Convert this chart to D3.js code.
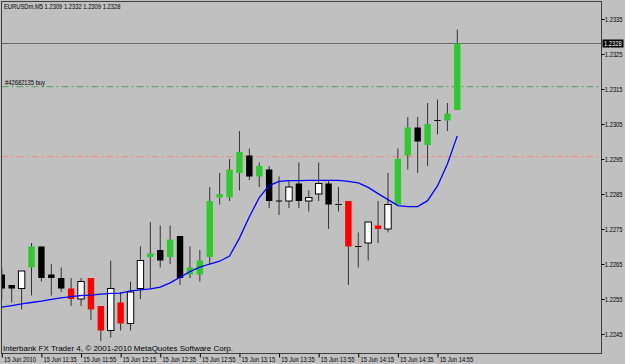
<!DOCTYPE html>
<html lang="en">
<head>
<meta charset="UTF-8">
<title>EURUSDm,M5</title>
<script src="https://cdn.jsdelivr.net/npm/d3@7"></script>
<style>
  body { margin: 0; background: #c0c0c0; }
  svg { display: block; font-family: "Liberation Sans", Arial, sans-serif; }
  .axis text { font-size: 7px; fill: #000; }
  .axis line { stroke: #000; }
  .axis path { display: none; }
</style>
</head>
<body>
<script>
// bar times (M5), 15 Jun 2010
const times = ["11:15","11:20","11:25","11:30","11:35","11:40","11:45","11:50","11:55","12:00",
  "12:05","12:10","12:15","12:20","12:25","12:30","12:35","12:40","12:45","12:50",
  "12:55","13:00","13:05","13:10","13:15","13:20","13:25","13:30","13:35","13:40",
  "13:45","13:50","13:55","14:00","14:05","14:10","14:15","14:20","14:25","14:30",
  "14:35","14:40","14:45","14:50","14:55","15:00","15:05"];

const opens = [1.2262,1.2259,1.2258,1.2264,1.2270,1.2262,1.2261,1.2258,1.2255,1.2261,
  1.2253,1.2246,1.2254,1.2248,1.2258,1.2267,1.2269,1.2267,1.2273,1.2262,
  1.2262,1.2267,1.2284,1.2284,1.2291,1.2296,1.2290,1.2292,1.2283,1.2283,
  1.2288,1.2283,1.2285,1.2288,1.2282,1.2283,1.2270,1.2271,1.2276,1.2275,
  1.2282,1.2296,1.2304,1.2299,1.2306,1.2306,1.2309];
const highs = [1.2264,1.2259,1.2263,1.2271,1.2270,1.2265,1.2264,1.2261,1.2261,1.2261,
  1.2253,1.2266,1.2257,1.2260,1.2270,1.2277,1.2276,1.2276,1.2273,1.2270,
  1.2269,1.2287,1.2291,1.2295,1.2303,1.2298,1.2294,1.2293,1.2290,1.2289,
  1.2294,1.2286,1.2294,1.2289,1.2287,1.2283,1.2274,1.2277,1.2283,1.2291,
  1.2298,1.2307,1.2307,1.2311,1.2312,1.2311,1.2332];
const lows = [1.2255,1.2254,1.2252,1.2256,1.2260,1.2256,1.2257,1.2253,1.2253,1.2249,
  1.2243,1.2244,1.2246,1.2246,1.2255,1.2258,1.2264,1.2265,1.2259,1.2261,
  1.2260,1.2265,1.2282,1.2283,1.2286,1.2289,1.2287,1.2281,1.2279,1.2281,
  1.2281,1.2280,1.2283,1.2275,1.2280,1.2259,1.2264,1.2266,1.2271,1.2274,
  1.2282,1.2292,1.2291,1.2293,1.2302,1.2303,1.2309];
const closes = [1.2258,1.2258,1.2263,1.2270,1.2261,1.2261,1.2258,1.2255,1.2260,1.2252,
  1.2246,1.2258,1.2248,1.2257,1.2266,1.2268,1.2266,1.2272,1.2261,1.2264,
  1.2266,1.2283,1.2285,1.2292,1.2297,1.2290,1.2293,1.2283,1.2283,1.2287,
  1.2283,1.2284,1.2288,1.2282,1.2282,1.2270,1.2270,1.2277,1.2275,1.2282,
  1.2295,1.2304,1.2300,1.2305,1.2306,1.2308,1.2328];

// blue moving average
const ma = [1.22527,1.22531,1.22536,1.22540,1.22544,1.22549,1.22553,1.22557,1.22560,1.22561,
  1.22564,1.22566,1.22567,1.22573,1.22576,1.22579,1.22584,1.22596,1.22612,1.22628,
  1.22641,1.22650,1.22658,1.22673,1.22724,1.22785,1.22840,1.22874,1.22886,1.22888,
  1.22888,1.22889,1.22889,1.22889,1.22889,1.22886,1.22882,1.22869,1.22851,1.22834,
  1.22817,1.22814,1.22814,1.22831,1.22873,1.22936,1.23016];

// bars coloured by the signal indicator (green up / red down)
const marked = [0,0,0,1,0,0,0,1,0,1, 1,0,1,0,0,1,0,1,0,1, 1,1,1,1,1,0,1,0,0,0,
  0,0,0,0,0,1,0,0,1,0, 1,1,0,1,0,1,1];

const timeTicks = ["11:15","11:35","11:55","12:15","12:35","12:55","13:15","13:35","13:55","14:15","14:35","14:55"];
const timeLabels = ["15 Jun 2010","15 Jun 11:35","15 Jun 11:55","15 Jun 12:15","15 Jun 12:35","15 Jun 12:55",
  "15 Jun 13:15","15 Jun 13:35","15 Jun 13:55","15 Jun 14:15","15 Jun 14:35","15 Jun 14:55"];
const priceTicks = [1.2335,1.2325,1.2315,1.2305,1.2295,1.2285,1.2275,1.2265,1.2255,1.2245];

const lastPrice = 1.2328;
const orderPrice = 1.23157;
const stopPrice = 1.22957;
const orderLabel = "#42682135 buy";
const title = "EURUSDm,M5  1.2309 1.2332 1.2309 1.2328";
const footer = "Interbank FX Trader 4, \u00a9 2001-2010 MetaQuotes Software Corp.";

const W = 625, H = 364;
const pLeft = 1.5, pRight = 601.5, pTop = 1.5, pBottom = 353.5;
const narrow = 0.83; // terminal font is narrower than Arial

const svg = d3.select("body").append("svg")
    .attr("width", W)
    .attr("height", H);

svg.append("rect").attr("width", W).attr("height", H).attr("fill", "#c0c0c0");

const x = d3.scalePoint().domain(times).range([1.8, 457.3]);
const y = d3.scaleLinear().domain([1.2245, 1.2335]).range([334, 19]);

svg.append("clipPath").attr("id", "plot")
  .append("rect")
    .attr("x", pLeft).attr("y", pTop)
    .attr("width", pRight - pLeft).attr("height", pBottom - pTop);

function smallText(px, py, str, size) {
  return svg.append("text")
      .attr("transform", "translate(" + px + "," + py + ") scale(" + narrow + ",1)")
      .style("font-size", (size || 7) + "px")
      .text(str);
}

// level lines
svg.append("line")
    .attr("x1", pLeft).attr("x2", pRight)
    .attr("y1", y(orderPrice)).attr("y2", y(orderPrice))
    .attr("stroke", "#6aa66a").attr("stroke-width", 1.2)
    .attr("stroke-dasharray", "7,3,2,3");
svg.append("line")
    .attr("x1", pLeft).attr("x2", pRight)
    .attr("y1", y(stopPrice)).attr("y2", y(stopPrice))
    .attr("stroke", "#e8977c").attr("stroke-width", 1.2)
    .attr("stroke-dasharray", "7,3,2,3");
svg.append("line")
    .attr("x1", pLeft).attr("x2", pRight)
    .attr("y1", y(lastPrice)).attr("y2", y(lastPrice))
    .attr("stroke", "#6a6a6a").attr("stroke-width", 1);

smallText(5, y(orderPrice) - 2, orderLabel);

// candles
const bars = times.map((t, i) => ({ t, o: opens[i], h: highs[i], l: lows[i], c: closes[i], m: marked[i] }));
const bw = 6.4;

const g = svg.append("g").attr("clip-path", "url(#plot)");

g.selectAll("line.wick")
  .data(bars)
  .join("line")
    .attr("class", "wick")
    .attr("x1", d => x(d.t)).attr("x2", d => x(d.t))
    .attr("y1", d => y(d.h)).attr("y2", d => y(d.l))
    .attr("stroke", "#333").attr("stroke-width", 1);

function bodyFill(d) {
  if (d.m) return d.c >= d.o ? "#30c830" : "#ff0000";
  return d.c > d.o ? "#ffffff" : "#000000";
}

g.selectAll("rect.body")
  .data(bars.filter(d => d.o !== d.c))
  .join("rect")
    .attr("class", "body")
    .attr("x", d => x(d.t) - bw / 2)
    .attr("y", d => y(Math.max(d.o, d.c)))
    .attr("width", bw)
    .attr("height", d => Math.abs(y(d.o) - y(d.c)))
    .attr("fill", bodyFill)
    .attr("stroke", d => (!d.m && d.c > d.o) ? "#000" : "none")
    .attr("stroke-width", 1);

g.selectAll("line.doji")
  .data(bars.filter(d => d.o === d.c))
  .join("line")
    .attr("class", "doji")
    .attr("x1", d => x(d.t) - bw / 2).attr("x2", d => x(d.t) + bw / 2)
    .attr("y1", d => y(d.o)).attr("y2", d => y(d.o))
    .attr("stroke", "#000").attr("stroke-width", 1);

// moving average
g.append("path")
    .datum(bars)
    .attr("fill", "none")
    .attr("stroke", "#0000ff")
    .attr("stroke-width", 1.3)
    .attr("d", d3.line().x(d => x(d.t)).y((d, i) => y(ma[i])));

// frame
svg.append("rect")
    .attr("x", pLeft).attr("y", pTop)
    .attr("width", pRight - pLeft).attr("height", pBottom - pTop)
    .attr("fill", "none").attr("stroke", "#404040");

// price axis
const yAxis = svg.append("g")
    .attr("class", "axis")
    .attr("transform", "translate(" + pRight + ",0)")
    .call(d3.axisRight(y).tickValues(priceTicks).tickSize(3).tickPadding(1).tickFormat(d3.format(".4f")));
yAxis.selectAll("text").attr("transform", "scale(" + narrow + ",1)");

// current price tag
svg.append("rect")
    .attr("x", pRight + 1).attr("y", y(lastPrice) - 4)
    .attr("width", 21).attr("height", 8)
    .attr("fill", "#000");
smallText(pRight + 2.5, y(lastPrice) + 2.5, d3.format(".4f")(lastPrice)).attr("fill", "#fff");

// time axis
const xAxis = svg.append("g")
    .attr("class", "axis")
    .attr("transform", "translate(0," + pBottom + ")")
    .call(d3.axisBottom(x).tickValues(timeTicks).tickSize(4)
      .tickFormat((d, i) => timeLabels[i]));
xAxis.selectAll("text")
    .style("text-anchor", "start")
    .attr("x", 2)
    .attr("y", 3.5)
    .attr("dy", "0.71em")
    .attr("transform", "scale(" + narrow + ",1)");

// captions
smallText(4, 9, title);
svg.append("text")
    .attr("x", 3).attr("y", 351)
    .style("font-size", "8px")
    .text(footer);
</script>
</body>
</html>
